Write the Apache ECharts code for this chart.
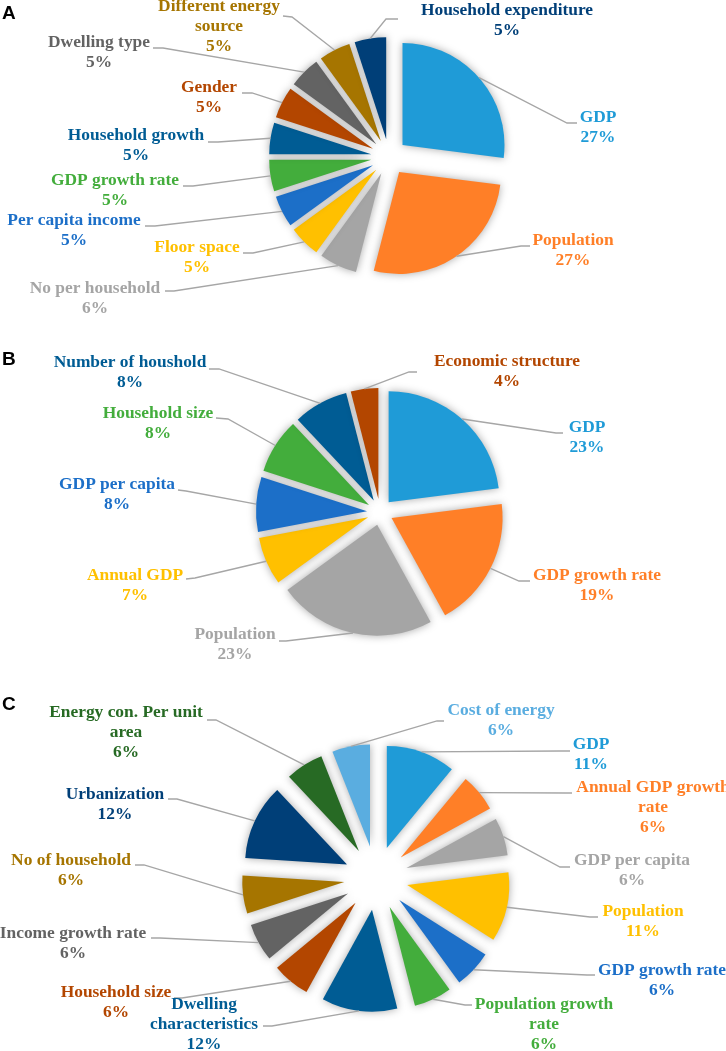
<!DOCTYPE html>
<html><head><meta charset="utf-8">
<script src="https://cdn.jsdelivr.net/npm/echarts@6/dist/echarts.min.js"></script>
<style>html,body{margin:0;padding:0;background:#fff}#c{width:726px;height:1051px}</style>
</head><body><div id="c"></div>
<script>
// ---- Data ----
const catsA = ['GDP','Population','No per household','Floor space','Per capita income','GDP growth rate','Household growth','Gender','Dwelling type','Different energy source','Household expenditure'];
const valsA = [27,27,6,5,5,5,5,5,5,5,5];
const catsB = ['GDP','GDP growth rate','Population','Annual GDP','GDP per capita','Household size','Number of houshold','Economic structure'];
const valsB = [23,19,23,7,8,8,8,4];
const catsC = ['GDP','Annual GDP growth rate','GDP per capita','Population','GDP growth rate','Population growth rate','Dwelling characteristics','Household size','Income growth rate','No of household','Urbanization','Energy con. Per unit area','Cost of energy'];
const valsC = [11,6,6,11,6,6,12,6,6,6,12,6,6];

// ---- Styles ----
const colorsA = ['#1f9bd7','#ff7f27','#a5a5a5','#ffc000','#1c6fc8','#43ad3c','#005c94','#b34600','#636363','#a67500','#003f78'];
const colorsB = ['#1f9bd7','#ff7f27','#a5a5a5','#ffc000','#1c6fc8','#43ad3c','#005c94','#b34600'];
const colorsC = ['#1f9bd7','#ff7f27','#a5a5a5','#ffc000','#1c6fc8','#43ad3c','#005c94','#b34600','#636363','#a67500','#003f78','#276a24','#5aade0'];
const WRAP = {
  'Different energy source':'Different energy\nsource',
  'Annual GDP growth rate':'Annual GDP growth\nrate',
  'Population growth rate':'Population growth\nrate',
  'Dwelling characteristics':'Dwelling\ncharacteristics',
  'Energy con. Per unit area':'Energy con. Per unit\narea'
};
// label placement: [centerX, topY, lineEndX, lineEndY, elbowX, elbowY]
const posA = [[598,108,577,123,567,123],[573,231,530,246,521,246],[95,279,165,291,174,291],[197,238,243,253,253,253],
  [74,211,145,226,155,226],[115,171,183,186,193,186],[136,126,208,142,218,142],[209,78,242,93,252,93],
  [99,33,153,48,163,48],[219,-3,283,16,292,17],[507,1,398,19,386,19]];
const posB = [[587,418,563,433,556,433],[597,566,530,581,519,581],[235,625,279,641,286,641],[135,566,186,579,195,578],
  [117,475,178,490,186,491],[158,404,216,418,228,419],[130,353,209,369,219,369],[507,352,417,372,409,372]];
const posC = [[591,735,570,751,560,751],[653,778,572,793,566,793],[632,851,570,867,560,867],[643,902,598,917,590,917],
  [662,961,595,975,587,975],[544,995,472,1005,465,1005],[204,995,263,1026,272,1026],[116,983,174,998,182,998],
  [73,924,151,938,160,938],[71,851,135,865,144,865],[115,785,168,799,177,799],[126,703,207,720,216,720],[501,701,444,721,437,721]];

function makeSeries(cats, vals, colors, pos, center, radius, offset) {
  const total = vals.reduce((a,b)=>a+b,0);
  let cum = 0;
  const dirs = vals.map(v => { const mid = (cum + v/2)/total*2*Math.PI; cum += v; return [Math.sin(mid), -Math.cos(mid)]; });
  const base = {type:'pie', center: center, radius: radius, startAngle: 90, clockwise: true,
    avoidLabelOverlap:false, animation:false, emphasis:{disabled:true}};
  const slices = Object.assign({}, base, {
    selectedMode:'multiple', selectedOffset: offset,
    data: cats.map((n,i)=>({name:n, value:vals[i], selected:true, itemStyle:{color:colors[i]}})),
    label:{show:false}, labelLine:{show:false},
    itemStyle:{shadowBlur:8, shadowColor:'rgba(0,0,0,0.35)'}
  });
  const labels = Object.assign({}, base, {
    silent:true, selectedMode:false, z:3,
    data: cats.map((n,i)=>({name:n, value:vals[i], label:{color:colors[i]}})),
    itemStyle:{color:'rgba(0,0,0,0)'},
    label:{show:true, position:'outside', formatter: p => (WRAP[p.name]||p.name)+'\n'+p.value+'%',
      fontFamily:'Liberation Serif', fontWeight:'bold', fontSize:17.4, lineHeight:20, align:'center'},
    labelLine:{show:true, length:10, length2:10, smooth:false, lineStyle:{color:'#a6a6a6', width:1.3}},
    labelLayout: function(params){
      const i = params.dataIndex, p = pos[i], d = dirs[i];
      const anchor = [center[0]+d[0]*(radius+offset), center[1]+d[1]*(radius+offset)];
      return {x:p[0], y:p[1], align:'center', verticalAlign:'top',
        labelLinePoints:[anchor, [p[4],p[5]], [p[2],p[3]]]};
    }
  });
  return [slices, labels];
}

const chart = echarts.init(document.getElementById('c'), null, {renderer:'canvas'});
const letterStyle = {fontFamily:'Liberation Sans', fontWeight:'bold', fontSize:19, color:'#000'};
chart.setOption({
  backgroundColor:'#fff',
  animation:false,
  title:[
    {text:'A', left:2, top:4, padding:0, textStyle:letterStyle},
    {text:'B', left:2, top:350, padding:0, textStyle:letterStyle},
    {text:'C', left:2, top:695, padding:0, textStyle:letterStyle}
  ],
  series:[].concat(
    makeSeries(catsA, valsA, colorsA, posA, [389,157], 102, 18),
    makeSeries(catsB, valsB, colorsB, posB, [380,512], 111, 13),
    makeSeries(catsC, valsC, colorsC, posC, [376,878], 102, 32)
  )
});
</script></body></html>
